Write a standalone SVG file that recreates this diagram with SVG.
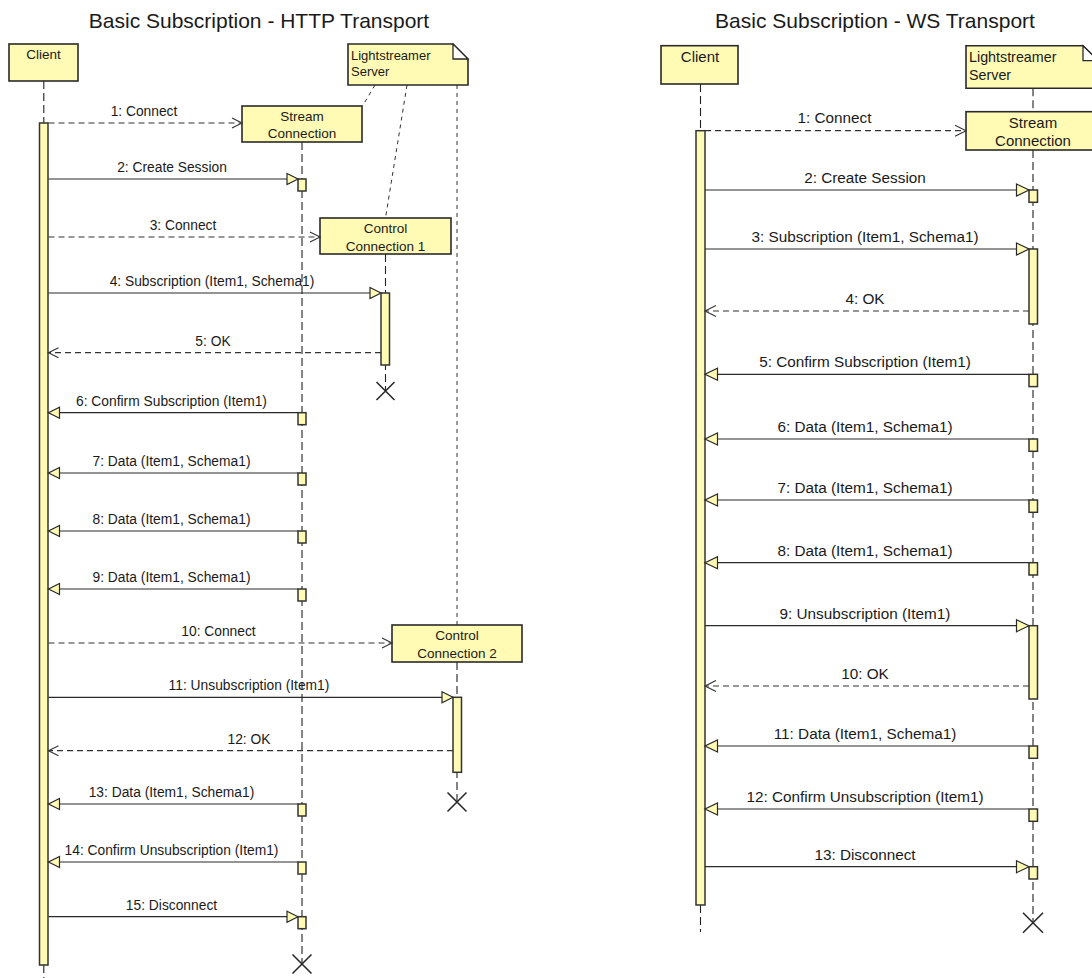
<svg xmlns="http://www.w3.org/2000/svg" width="1092" height="978" viewBox="0 0 1092 978">
<style>
text{font-family:"Liberation Sans",Arial,sans-serif;fill:#1a1a1a}
.title{font-size:21px;text-anchor:middle}
.lbl{font-size:13.8px;text-anchor:middle}
.lblR{font-size:15.3px;text-anchor:middle}
.box{font-size:13.5px;text-anchor:middle}
.boxR{font-size:15px;text-anchor:middle}
.nt{font-size:13px}
.ntR{font-size:14.3px}
.obj{fill:#FFFAB4;stroke:#2a2a2a;stroke-width:1.6}
.act{fill:#FFFAB4;stroke:#333;stroke-width:1.5}
.life{fill:none;stroke:#222;stroke-width:1.1;stroke-dasharray:8,4}
.link{fill:none;stroke:#333;stroke-width:1;stroke-dasharray:4,4}
.msg{fill:none;stroke:#2a2a2a;stroke-width:1.2}
.dmsg{fill:none;stroke:#333;stroke-width:1.2;stroke-dasharray:6,4}
.x{fill:none;stroke:#2a2a2a;stroke-width:1.6}
</style>
<defs>
<marker id="fill" markerUnits="userSpaceOnUse" viewBox="-1 -1 13 13" refX="11" refY="5.5" markerWidth="13" markerHeight="13" orient="auto" overflow="visible"><path d="M0,0 L11,5.5 L0,11 Z" fill="#FFFAB4" stroke="#2a2a2a" stroke-width="1.2"/></marker>
<marker id="open" markerUnits="userSpaceOnUse" viewBox="-1 -1 12 12" refX="10" refY="5" markerWidth="12" markerHeight="12" orient="auto" overflow="visible"><path d="M0,0 L10,5 L0,10" fill="none" stroke="#333" stroke-width="1.1"/></marker>
<marker id="fillR" markerUnits="userSpaceOnUse" viewBox="-1 -1 14 14" refX="12.5" refY="6" markerWidth="14" markerHeight="14" orient="auto" overflow="visible"><path d="M0,0 L12.5,6 L0,12 Z" fill="#FFFAB4" stroke="#2a2a2a" stroke-width="1.2"/></marker>
<marker id="openR" markerUnits="userSpaceOnUse" viewBox="-1 -1 13 13" refX="11" refY="5.5" markerWidth="13" markerHeight="13" orient="auto" overflow="visible"><path d="M0,0 L11,5.5 L0,11" fill="none" stroke="#333" stroke-width="1.1"/></marker>
</defs>
<rect width="1092" height="978" fill="#fff"/>

<text class="title" x="259" y="27.5">Basic Subscription - HTTP Transport</text>
<text class="title" x="875" y="27.5">Basic Subscription - WS Transport</text>

<!-- ========== HTTP diagram ========== -->
<g id="http-note">
<path class="link" d="M375,85 L362.5,106 M407,85 L385.5,218 M457,85 L457,625"/>
<path class="obj" d="M348,44 H453 L468,59 V85 H348 Z"/>
<path d="M453,44 V59 H468 Z" fill="#fff" stroke="#2a2a2a" stroke-width="1.3"/>
<text class="nt" x="351" y="60">Lightstreamer</text>
<text class="nt" x="351" y="76">Server</text>
</g>
<g id="http-client">
<path class="life" d="M43.8,81 V123 M43.8,965 V978"/>
<rect class="obj" x="9" y="44" width="69" height="37"/>
<text class="box" x="43.5" y="59">Client</text>
<rect class="act" x="39.5" y="123" width="8.5" height="842"/>
</g>
<g id="http-stream">
<path class="life" d="M302,142 V963"/>
<rect class="obj" x="242" y="106" width="120" height="36"/>
<text class="box" x="302" y="121">Stream</text>
<text class="box" x="302" y="138">Connection</text>
<g class="act">
<rect x="298" y="179" width="8" height="12"/>
<rect x="298" y="412.7" width="8" height="12"/>
<rect x="298" y="473" width="8" height="12"/>
<rect x="298" y="531" width="8" height="12"/>
<rect x="298" y="589" width="8" height="12"/>
<rect x="298" y="804" width="8" height="12"/>
<rect x="298" y="862" width="8" height="12"/>
<rect x="298" y="916.7" width="8" height="12"/>
</g>
<path class="x" d="M292.5,954.5 L311.5,973.5 M311.5,954.5 L292.5,973.5"/>
</g>
<g id="http-cc1">
<path class="life" d="M385.5,254 V391"/>
<rect class="obj" x="320" y="218" width="131" height="36"/>
<text class="box" x="385.5" y="233">Control</text>
<text class="box" x="385.5" y="250.5">Connection 1</text>
<rect class="act" x="381" y="293" width="8.5" height="72"/>
<path class="x" d="M376.5,382 L394.5,400 M394.5,382 L376.5,400"/>
</g>
<g id="http-cc2">
<path class="life" d="M457,662 V802"/>
<rect class="obj" x="392" y="625" width="130" height="37"/>
<text class="box" x="457" y="640">Control</text>
<text class="box" x="457" y="657.5">Connection 2</text>
<rect class="act" x="453" y="697.3" width="8.5" height="75"/>
<path class="x" d="M447.5,792.5 L466.5,811.5 M466.5,792.5 L447.5,811.5"/>
</g>

<g id="http-connectors">
<path class="dmsg" d="M48.5,123 H242" marker-end="url(#open)"/>
<path class="msg" d="M48.5,179 H298" marker-end="url(#fill)"/>
<path class="dmsg" d="M48.5,237 H320" marker-end="url(#open)"/>
<path class="msg" d="M48.5,293 H381" marker-end="url(#fill)"/>
<path class="dmsg" d="M381,352.7 H48.5" marker-end="url(#open)"/>
<path class="msg" d="M298,412.7 H48.5" marker-end="url(#fill)"/>
<path class="msg" d="M298,473 H48.5" marker-end="url(#fill)"/>
<path class="msg" d="M298,531 H48.5" marker-end="url(#fill)"/>
<path class="msg" d="M298,589 H48.5" marker-end="url(#fill)"/>
<path class="dmsg" d="M48.5,643 H392" marker-end="url(#open)"/>
<path class="msg" d="M48.5,697.3 H453" marker-end="url(#fill)"/>
<path class="dmsg" d="M453,750.7 H48.5" marker-end="url(#open)"/>
<path class="msg" d="M298,804 H48.5" marker-end="url(#fill)"/>
<path class="msg" d="M298,862 H48.5" marker-end="url(#fill)"/>
<path class="msg" d="M48.5,916.7 H298" marker-end="url(#fill)"/>
<text class="lbl" x="144" y="116">1: Connect</text>
<text class="lbl" x="172" y="172">2: Create Session</text>
<text class="lbl" x="183" y="230">3: Connect</text>
<text class="lbl" x="212" y="286">4: Subscription (Item1, Schema1)</text>
<text class="lbl" x="213" y="346">5: OK</text>
<text class="lbl" x="171.5" y="406">6: Confirm Subscription (Item1)</text>
<text class="lbl" x="171.5" y="466">7: Data (Item1, Schema1)</text>
<text class="lbl" x="171.5" y="524">8: Data (Item1, Schema1)</text>
<text class="lbl" x="171.5" y="582">9: Data (Item1, Schema1)</text>
<text class="lbl" x="218.5" y="636">10: Connect</text>
<text class="lbl" x="249" y="690">11: Unsubscription (Item1)</text>
<text class="lbl" x="249" y="744">12: OK</text>
<text class="lbl" x="171.5" y="797">13: Data (Item1, Schema1)</text>
<text class="lbl" x="171.5" y="855">14: Confirm Unsubscription (Item1)</text>
<text class="lbl" x="171.5" y="910">15: Disconnect</text>
</g>

<!-- ========== WS diagram ========== -->
<g id="ws-note">
<path class="life" d="M1033,88.3 V111.7"/>
<path class="obj" d="M966,45.7 H1083 L1098,60.7 V88.3 H966 Z"/>
<path d="M1083,45.7 V60.7 H1098 Z" fill="#fff" stroke="#2a2a2a" stroke-width="1.3"/>
<text class="ntR" x="969" y="62">Lightstreamer</text>
<text class="ntR" x="969" y="79.5">Server</text>
</g>
<g id="ws-client">
<path class="life" d="M700.5,84 V130.7 M700.5,905 V932"/>
<rect class="obj" x="661" y="45.7" width="77" height="38.3"/>
<text class="boxR" x="700" y="61.7">Client</text>
<rect class="act" x="696" y="130.7" width="9" height="774.3"/>
</g>
<g id="ws-stream">
<path class="life" d="M1033,150 V922.7"/>
<rect class="obj" x="966" y="111.7" width="134" height="38.3"/>
<text class="boxR" x="1033" y="127.7">Stream</text>
<text class="boxR" x="1033" y="145.5">Connection</text>
<g class="act">
<rect x="1029" y="190" width="8.5" height="12.3"/>
<rect x="1029" y="249" width="8.5" height="75"/>
<rect x="1029" y="374.3" width="8.5" height="12.3"/>
<rect x="1029" y="439" width="8.5" height="12.3"/>
<rect x="1029" y="500" width="8.5" height="12.3"/>
<rect x="1029" y="562.7" width="8.5" height="12.3"/>
<rect x="1029" y="625.7" width="8.5" height="73.3"/>
<rect x="1029" y="746" width="8.5" height="12.3"/>
<rect x="1029" y="809" width="8.5" height="12.3"/>
<rect x="1029" y="866.7" width="8.5" height="12.3"/>
</g>
<path class="x" d="M1023,912.7 L1043,932.7 M1043,912.7 L1023,932.7"/>
</g>

<g id="ws-connectors">
<path class="dmsg" d="M705,130.7 H966" marker-end="url(#openR)"/>
<path class="msg" d="M705,190 H1029" marker-end="url(#fillR)"/>
<path class="msg" d="M705,249 H1029" marker-end="url(#fillR)"/>
<path class="dmsg" d="M1029,311 H705" marker-end="url(#openR)"/>
<path class="msg" d="M1029,374.3 H705" marker-end="url(#fillR)"/>
<path class="msg" d="M1029,439 H705" marker-end="url(#fillR)"/>
<path class="msg" d="M1029,500 H705" marker-end="url(#fillR)"/>
<path class="msg" d="M1029,562.7 H705" marker-end="url(#fillR)"/>
<path class="msg" d="M705,625.7 H1029" marker-end="url(#fillR)"/>
<path class="dmsg" d="M1029,686 H705" marker-end="url(#openR)"/>
<path class="msg" d="M1029,746 H705" marker-end="url(#fillR)"/>
<path class="msg" d="M1029,809 H705" marker-end="url(#fillR)"/>
<path class="msg" d="M705,866.7 H1029" marker-end="url(#fillR)"/>
<text class="lblR" x="834.5" y="123">1: Connect</text>
<text class="lblR" x="865" y="182.7">2: Create Session</text>
<text class="lblR" x="865" y="242">3: Subscription (Item1, Schema1)</text>
<text class="lblR" x="865" y="304">4: OK</text>
<text class="lblR" x="865" y="367">5: Confirm Subscription (Item1)</text>
<text class="lblR" x="865" y="432">6: Data (Item1, Schema1)</text>
<text class="lblR" x="865" y="493">7: Data (Item1, Schema1)</text>
<text class="lblR" x="865" y="555.5">8: Data (Item1, Schema1)</text>
<text class="lblR" x="865" y="618.5">9: Unsubscription (Item1)</text>
<text class="lblR" x="865" y="679">10: OK</text>
<text class="lblR" x="865" y="739">11: Data (Item1, Schema1)</text>
<text class="lblR" x="865" y="802">12: Confirm Unsubscription (Item1)</text>
<text class="lblR" x="865" y="859.5">13: Disconnect</text>
</g>
</svg>
